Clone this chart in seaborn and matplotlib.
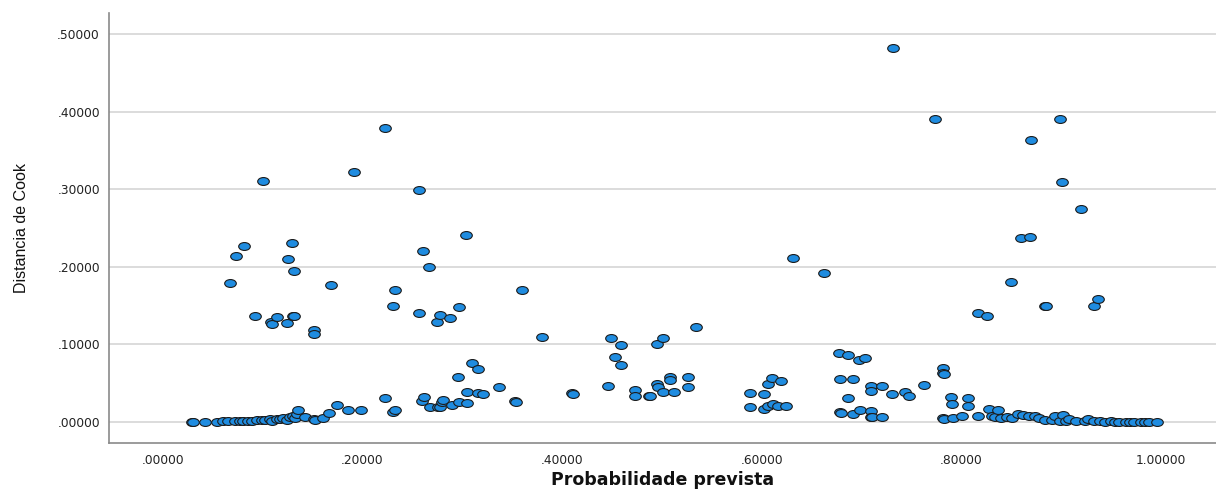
import matplotlib
matplotlib.use("Agg")
import matplotlib.pyplot as plt
import seaborn as sns
import pandas as pd
from matplotlib.path import Path
from matplotlib.transforms import Affine2D
from matplotlib.ticker import FixedLocator, FuncFormatter
from matplotlib import font_manager

# ---- data ----
prob = [
    0.029, 0.030, 0.042, 0.054, 0.060, 0.065, 0.072, 0.077, 0.080, 0.085,
    0.089, 0.094, 0.099, 0.102, 0.107, 0.109, 0.114, 0.117, 0.120, 0.124,
    0.127, 0.130, 0.132, 0.134, 0.135, 0.142, 0.151, 0.152, 0.160, 0.166,
    0.067, 0.073, 0.081, 0.092, 0.100, 0.108, 0.109, 0.114, 0.124, 0.125,
    0.129, 0.130, 0.131, 0.131, 0.151, 0.151, 0.168, 0.174, 0.185, 0.191,
    0.198, 0.223, 0.223, 0.231, 0.233, 0.231, 0.233, 0.257, 0.257, 0.261,
    0.267, 0.260, 0.262, 0.268, 0.275, 0.276, 0.278, 0.278, 0.280, 0.281,
    0.288, 0.290, 0.296, 0.297, 0.297, 0.304, 0.305, 0.305, 0.310, 0.316,
    0.316, 0.321, 0.337, 0.353, 0.354, 0.360, 0.380, 0.410, 0.411, 0.446,
    0.449, 0.453, 0.459, 0.459, 0.473, 0.473, 0.487, 0.488, 0.495, 0.496,
    0.495, 0.501, 0.501, 0.508, 0.508, 0.512, 0.526, 0.526, 0.534,
    0.588, 0.588, 0.602, 0.602, 0.606, 0.606, 0.610, 0.611, 0.616, 0.619,
    0.624, 0.631, 0.662, 0.677, 0.678, 0.678, 0.679, 0.686, 0.686, 0.691,
    0.691, 0.697, 0.698, 0.703, 0.709, 0.709, 0.709, 0.709, 0.710, 0.720,
    0.720, 0.730, 0.731, 0.743, 0.747, 0.762, 0.774, 0.782, 0.782, 0.783,
    0.782, 0.783, 0.790, 0.791, 0.792, 0.801, 0.807, 0.807, 0.817, 0.817,
    0.826, 0.828, 0.831, 0.834, 0.837, 0.840, 0.846, 0.850, 0.851, 0.857,
    0.860, 0.862, 0.868, 0.869, 0.870, 0.874, 0.878, 0.884, 0.885, 0.884,
    0.891, 0.894, 0.899, 0.899, 0.901, 0.902, 0.905, 0.908, 0.915, 0.920,
    0.924, 0.927, 0.933, 0.933, 0.937, 0.939, 0.944, 0.950, 0.954, 0.958,
    0.965, 0.969, 0.973, 0.980, 0.984, 0.988, 0.996,
]
cook = [
    0.000, 0.000, 0.000, 0.000, 0.001, 0.001, 0.001, 0.001, 0.002, 0.001,
    0.002, 0.003, 0.003, 0.003, 0.004, 0.002, 0.004, 0.004, 0.005, 0.003,
    0.006, 0.008, 0.005, 0.010, 0.015, 0.007, 0.004, 0.003, 0.005, 0.012,
    0.179, 0.214, 0.227, 0.137, 0.311, 0.129, 0.126, 0.135, 0.127, 0.210,
    0.231, 0.136, 0.137, 0.195, 0.118, 0.114, 0.176, 0.022, 0.015, 0.322,
    0.015, 0.031, 0.379, 0.013, 0.015, 0.149, 0.170, 0.299, 0.141, 0.220,
    0.200, 0.027, 0.032, 0.019, 0.129, 0.019, 0.020, 0.138, 0.026, 0.029,
    0.134, 0.022, 0.058, 0.026, 0.148, 0.241, 0.024, 0.039, 0.076, 0.068,
    0.037, 0.036, 0.045, 0.027, 0.026, 0.170, 0.110, 0.037, 0.036, 0.046,
    0.108, 0.084, 0.099, 0.073, 0.041, 0.034, 0.034, 0.033, 0.049, 0.045,
    0.101, 0.108, 0.039, 0.058, 0.054, 0.039, 0.058, 0.045, 0.122,
    0.037, 0.019, 0.036, 0.017, 0.049, 0.021, 0.057, 0.023, 0.021, 0.053,
    0.021, 0.211, 0.192, 0.089, 0.055, 0.013, 0.012, 0.087, 0.031, 0.055,
    0.011, 0.080, 0.015, 0.083, 0.046, 0.040, 0.014, 0.007, 0.006, 0.047,
    0.007, 0.036, 0.482, 0.039, 0.034, 0.048, 0.390, 0.070, 0.063, 0.062,
    0.005, 0.004, 0.032, 0.023, 0.005, 0.008, 0.031, 0.021, 0.008, 0.140,
    0.136, 0.017, 0.008, 0.007, 0.015, 0.005, 0.007, 0.180, 0.005, 0.010,
    0.237, 0.009, 0.008, 0.238, 0.363, 0.008, 0.005, 0.150, 0.149, 0.003,
    0.003, 0.008, 0.390, 0.001, 0.309, 0.009, 0.002, 0.004, 0.002, 0.274,
    0.001, 0.004, 0.150, 0.001, 0.159, 0.001, 0.000, 0.001, 0.000, 0.000,
    0.000, 0.000, 0.000, 0.000, 0.000, 0.000, 0.000,
]
x_ticks = [0.0, 0.2, 0.4, 0.6, 0.8, 1.0]
y_ticks = [0.0, 0.1, 0.2, 0.3, 0.4, 0.5]
x_label = "Probabilidade prevista"
y_label = "Distancia de Cook"

df = pd.DataFrame({"prob": prob, "cook": cook})

sns.set_theme(style="white")
plt.rcParams["font.family"] = ["DejaVu Sans"]

fig = plt.figure(figsize=(12.16, 4.93), dpi=100)
ax = fig.add_axes([0.0896, 0.1014, 0.9104, 0.8722])

ellipse = Path.unit_circle().transformed(Affine2D().scale(1.0, 0.68))

sns.scatterplot(data=df, x="prob", y="cook", ax=ax, marker=ellipse,
                s=70, color="#1f8ce0", edgecolor="#1c1c1c", linewidth=0.8,
                zorder=3, legend=False)

ax.set_xlim(-0.054, 1.055)
ax.set_ylim(-0.027, 0.527)
ax.xaxis.set_major_locator(FixedLocator(x_ticks))
ax.yaxis.set_major_locator(FixedLocator(y_ticks))

def fmt(v, pos=None):
    s = f"{v:.5f}"
    return s[1:] if s.startswith("0") else s

ax.xaxis.set_major_formatter(FuncFormatter(fmt))
ax.yaxis.set_major_formatter(FuncFormatter(fmt))

ax.yaxis.grid(True, color="#d6d6d6", linewidth=1.2, zorder=0)
ax.xaxis.grid(False)
ax.set_axisbelow(True)

for side in ["top", "right"]:
    ax.spines[side].set_visible(False)
for side in ["left", "bottom"]:
    ax.spines[side].set_color("#8a8a8a")
    ax.spines[side].set_linewidth(1.2)

ax.tick_params(axis="both", length=0, labelsize=8.8, colors="#222222")
ax.tick_params(axis="x", pad=8)
ax.tick_params(axis="y", pad=6.5)

fams = {f.name for f in font_manager.fontManager.ttflist}
yfam = "Liberation Sans Narrow" if "Liberation Sans Narrow" in fams else "Liberation Sans"
ax.set_ylabel(y_label, family=yfam, fontsize=11.5, color="#111111",
              labelpad=20)
ax.set_xlabel(x_label, fontsize=12.5, fontweight="bold", color="#111111",
              labelpad=3)

fig.savefig("out.png", dpi=100)
